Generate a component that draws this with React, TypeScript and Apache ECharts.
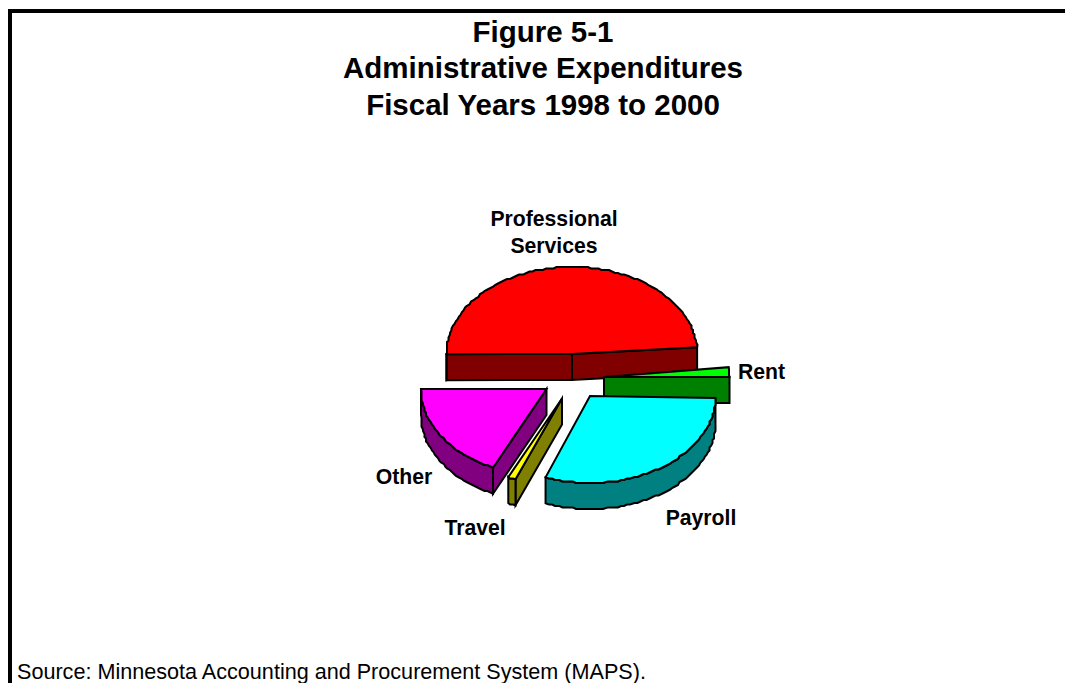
import { useEffect, useRef } from "react";
import * as echarts from "echarts";

// Spending shares, percent of the three-year administrative total
const categories = ["Rent", "Professional\nServices", "Other", "Travel", "Payroll"];
const shares = [1.8, 48.8, 18.0, 1.0, 30.4];

const titleLines = ["Figure 5-1", "Administrative Expenditures", "Fiscal Years 1998 to 2000"];
const sourceNote = "Source: Minnesota Accounting and Procurement System (MAPS).";

// Paint order puts the back slice first so that nearer slices cover it
const paintOrder = [1, 0, 4, 2, 3];

const topColors = ["#00ff00", "#ff0000", "#ff00ff", "#ffff00", "#00ffff"];
const sideColors = ["#008000", "#800000", "#800080", "#808000", "#008080"];

// Exploded centre of each slice, its angular nudge and its label anchor
const sliceCentres = [[604, 377], [572, 354], [546.5, 389], [562, 398.5], [590, 396]];
const sliceTurn = [0, -2, -2.2, -2.3, -1.3];
const labelSpots = [[738, 371.5], [554, 232], [404, 476], [475, 527], [701, 517]];
const labelAlign = ["left", "center", "center", "center", "center"];

const RX = 125.5;
const RY = 87;
const DEPTH = 26;

const toRad = (deg: number) => (deg * Math.PI) / 180;
const total = shares.reduce((a, b) => a + b, 0);

function sweep(i: number) {
  let start = 0;
  for (let k = 0; k < i; k++) start += (shares[k] / total) * 360;
  const end = start + (shares[i] / total) * 360;
  return [start + sliceTurn[i], end + sliceTurn[i]];
}

// Rim sampled on a coarse grid, which gives the outline its stepped look
function rim(cx: number, cy: number, a: number, b: number) {
  const n = Math.max(2, Math.ceil((b - a) / 1.6));
  const pts: number[][] = [];
  for (let k = 0; k <= n; k++) {
    const t = toRad(a + ((b - a) * k) / n);
    const edge = k === 0 || k === n;
    const x = cx + RX * Math.cos(t);
    const y = cy - RY * Math.sin(t);
    pts.push(edge ? [x, y] : [Math.round(x / 1.5) * 1.5, Math.round(y / 1.5) * 1.5]);
  }
  return pts;
}

function renderSlice(params: any, api: any) {
  const i = paintOrder[params.dataIndex];
  const [cx, cy] = sliceCentres[i];
  const [a, b] = sweep(i);
  const line = { stroke: "#000", lineWidth: 2, lineJoin: "miter" as const };
  const side = { fill: sideColors[i], ...line };
  const children: any[] = [];
  const quad = (p: number[], q: number[]) => ({
    type: "polygon",
    shape: { points: [p, q, [q[0], q[1] + DEPTH], [p[0], p[1] + DEPTH]] },
    style: side,
  });
  const pa = [cx + RX * Math.cos(toRad(a)), cy - RY * Math.sin(toRad(a))];
  const pb = [cx + RX * Math.cos(toRad(b)), cy - RY * Math.sin(toRad(b))];
  if (Math.cos(toRad(a)) > 0) children.push(quad([cx, cy], pa));
  if (Math.cos(toRad(b)) < 0) children.push(quad(pb, [cx, cy]));
  const lo = Math.max(a, 180);
  const hi = Math.min(b, 360);
  if (hi > lo) {
    const arc = rim(cx, cy, lo, hi);
    const under = arc.map(([x, y]) => [x, y + DEPTH]).reverse();
    children.push({ type: "polygon", shape: { points: [...arc, ...under] }, style: side });
  }
  children.push({
    type: "polygon",
    shape: { points: [[cx, cy], ...rim(cx, cy, a, b)] },
    style: { fill: topColors[i], ...line },
  });
  const [lx, ly] = labelSpots[i];
  children.push({
    type: "text",
    x: lx,
    y: ly,
    style: {
      text: categories[i],
      fill: "#000",
      font: "bold 21.2px 'Liberation Sans'",
      lineHeight: 27,
      align: labelAlign[i],
      verticalAlign: "middle",
    },
  });
  api.value(0);
  return { type: "group", children };
}

export default function App() {
  const ref = useRef<HTMLDivElement>(null);
  useEffect(() => {
    document.body.style.margin = "0";
    document.body.style.overflow = "hidden";
    const chart = echarts.init(ref.current!, null, { renderer: "svg" });
    chart.setOption({
      animation: false,
      backgroundColor: "#fff",
      title: [
        {
          text: titleLines.join("\n"),
          left: 538,
          top: 8,
          textAlign: "center",
          textStyle: {
            fontFamily: "Liberation Sans",
            fontWeight: "bold",
            fontSize: 29.5,
            lineHeight: 36.5,
            color: "#000",
          },
        },
        {
          text: sourceNote,
          left: 12,
          top: 656.5,
          textStyle: {
            fontFamily: "Liberation Sans",
            fontWeight: "normal",
            fontSize: 21.6,
            lineHeight: 20,
            color: "#000",
          },
        },
      ],
      graphic: [
        { type: "rect", shape: { x: 8, y: 9, width: 4, height: 674 }, style: { fill: "#000" } },
        { type: "rect", shape: { x: 8, y: 9, width: 1057, height: 4 }, style: { fill: "#000" } },
      ],
      series: [
        {
          type: "custom",
          coordinateSystem: "none",
          renderItem: renderSlice,
          data: paintOrder.map((i) => ({ name: categories[i], value: shares[i] })),
        },
      ],
    });
    return () => chart.dispose();
  }, []);
  return <div ref={ref} style={{ width: 1065, height: 683 }} />;
}
